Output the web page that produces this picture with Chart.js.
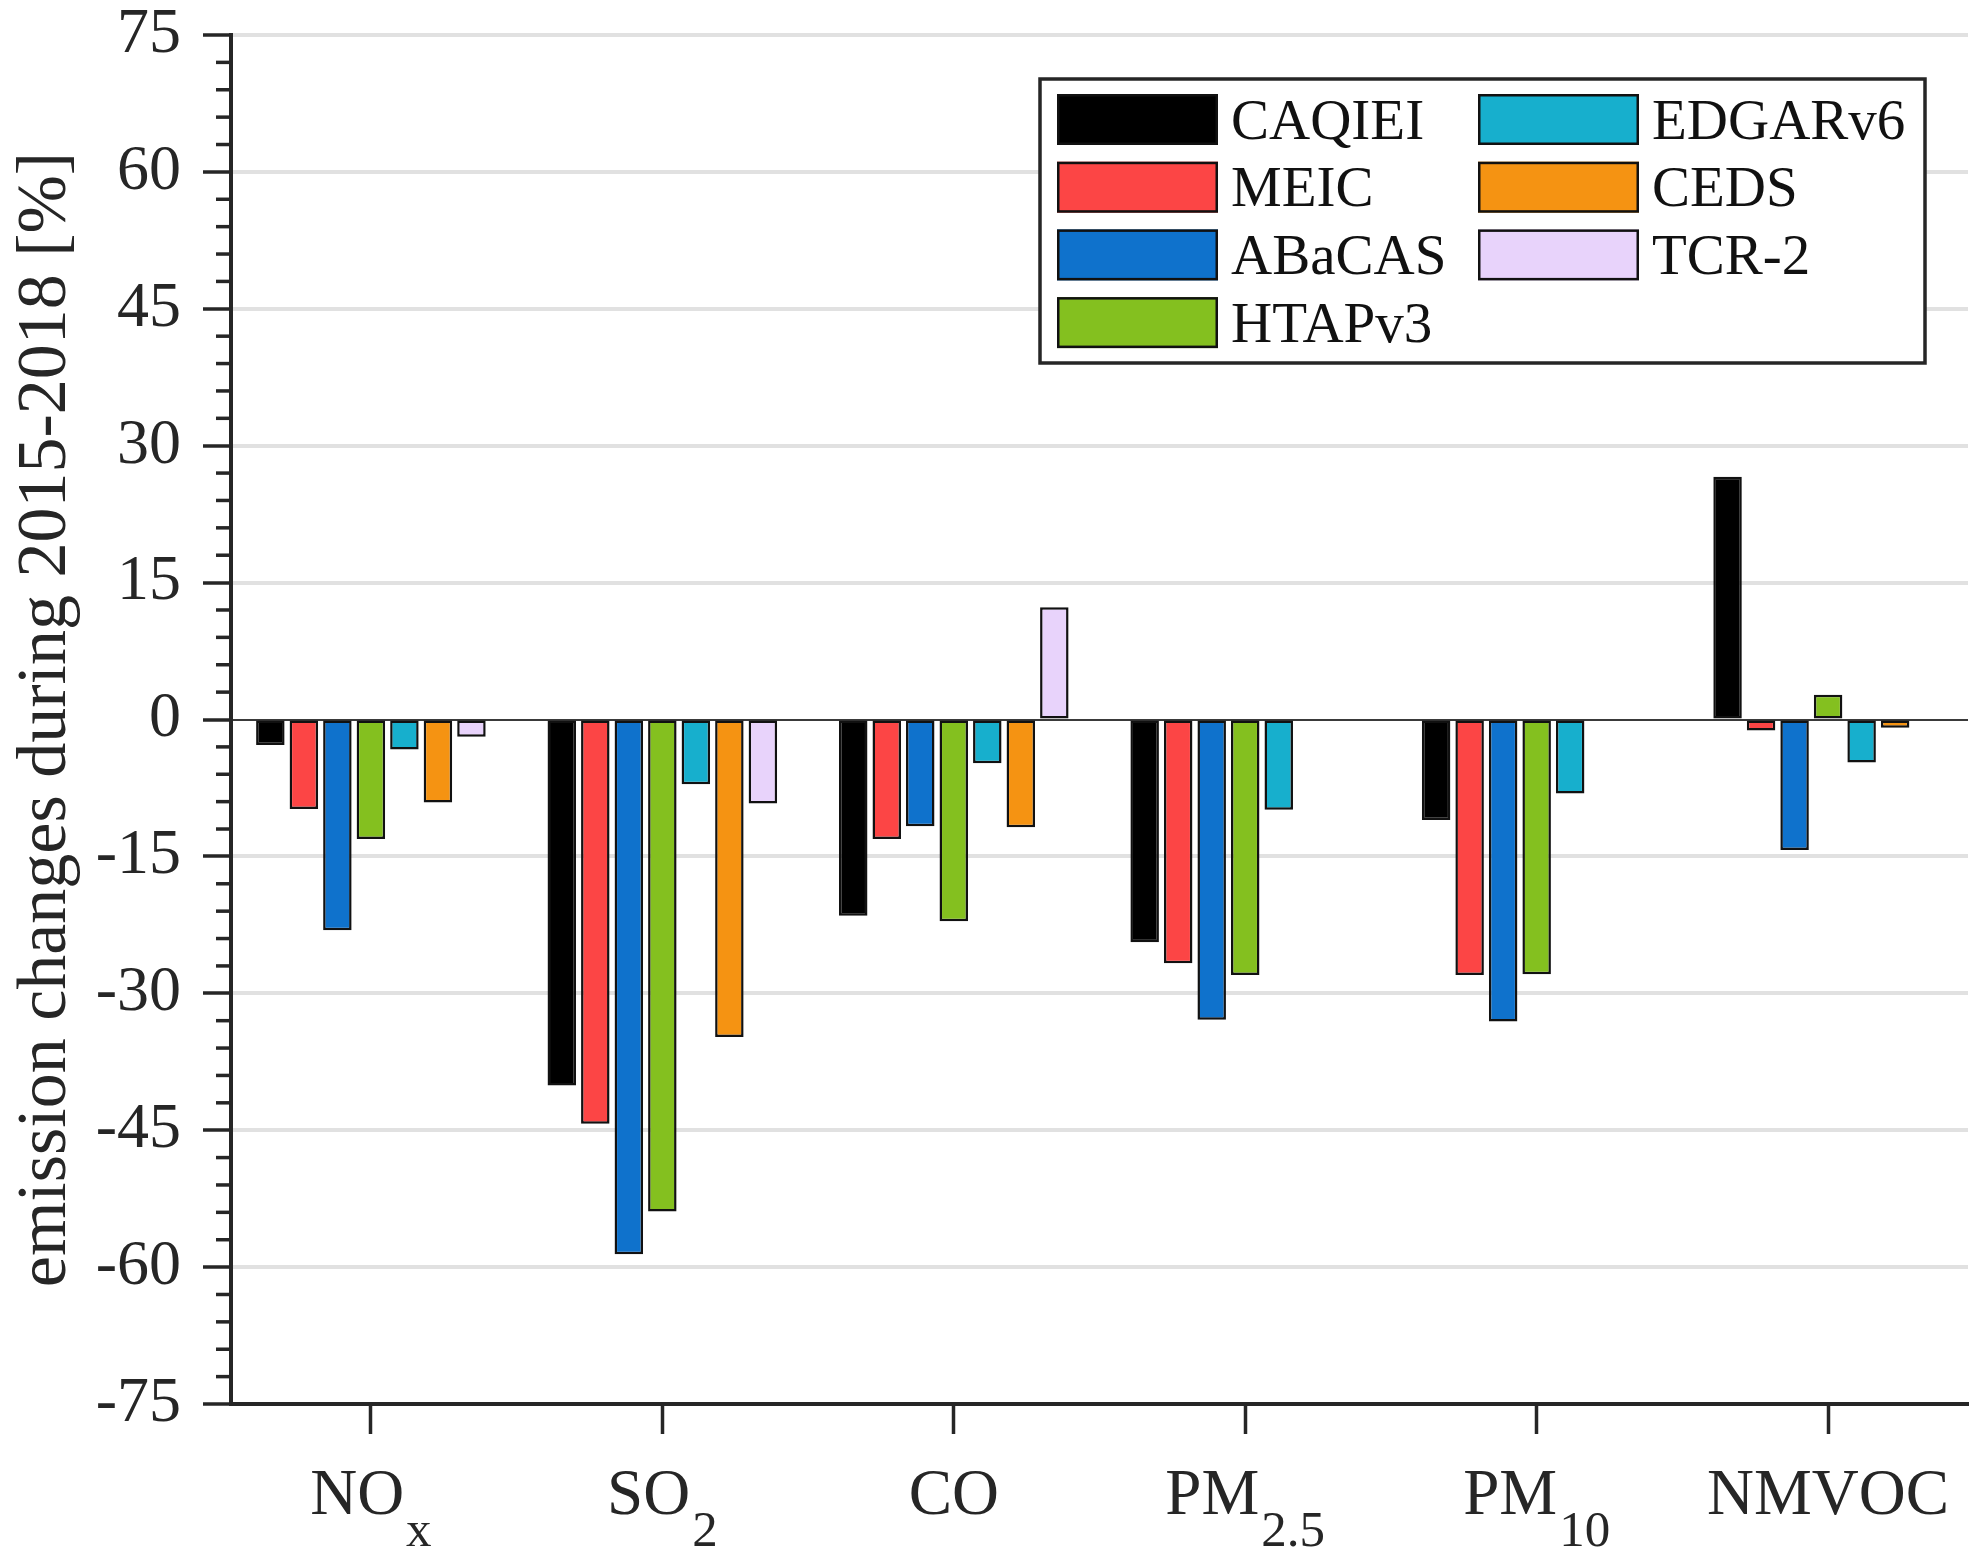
<!DOCTYPE html>
<html><head><meta charset="utf-8">
<script src="https://cdn.jsdelivr.net/npm/chart.js@4.4.0/dist/chart.umd.min.js"></script>
<style>html,body{margin:0;padding:0;background:#fff;}canvas{display:block;}</style>
</head><body>
<canvas id="c" width="1987" height="1564"></canvas>
<script>
// ---- data ----
const categories = ['NOx', 'SO2', 'CO', 'PM2.5', 'PM10', 'NMVOC'];
const categoryMain = ['NO', 'SO', 'CO', 'PM', 'PM', 'NMVOC'];
const categorySub = ['x', '2', '', '2.5', '10', ''];
const seriesNames = ['CAQIEI', 'MEIC', 'ABaCAS', 'HTAPv3', 'EDGARv6', 'CEDS', 'TCR-2'];
const CAQIEI  = [-2.8, -40.1, -21.5, -24.4, -11.0, 26.6];
const MEIC    = [-9.8, -44.3, -13.1, -26.7, -28.0, -1.2];
const ABaCAS  = [-23.1, -58.6, -11.7, -32.9, -33.1, -14.3];
const HTAPv3  = [-13.1, -53.9, -22.1, -28.0, -27.9, 2.7];
const EDGARv6 = [-3.3, -7.1, -4.8, -9.9, -8.1, -4.7];
const CEDS    = [-9.1, -34.8, -11.8, null, null, -0.9];
const TCR2    = [-1.9, -9.2, 12.3, null, null, null];
const seriesValues = [CAQIEI, MEIC, ABaCAS, HTAPv3, EDGARv6, CEDS, TCR2];
const seriesColors = ['#000000', '#FC4545', '#0F72CC', '#84C01F', '#17AFCD', '#F59312', '#E8D3FB'];
const yTicks = [-75, -60, -45, -30, -15, 0, 15, 30, 45, 60, 75];
const yTitle = 'emission changes during 2015-2018 [%]';

const FONT = "'Liberation Serif', serif";
const INK = '#262626';

const whiteBg = {
  id: 'whiteBg',
  beforeDraw(chart) {
    const ctx = chart.ctx;
    ctx.save(); ctx.fillStyle = '#fff';
    ctx.fillRect(0, 0, chart.width, chart.height); ctx.restore();
  }
};

const minorTicks = {
  id: 'minorTicks',
  afterDraw(chart) {
    const y = chart.scales.y, ctx = chart.ctx;
    const x0 = chart.chartArea.left;
    ctx.save(); ctx.strokeStyle = INK; ctx.lineWidth = 3.5;
    for (let v = y.min; v <= y.max; v += 3) {
      if (v % 15 === 0) continue;
      const py = y.getPixelForValue(v);
      ctx.beginPath(); ctx.moveTo(x0 - 15, py); ctx.lineTo(x0, py); ctx.stroke();
    }
    ctx.restore();
  }
};

const xLabels = {
  id: 'xLabels',
  afterDraw(chart) {
    const xs = chart.scales.x, ctx = chart.ctx;
    ctx.save(); ctx.fillStyle = INK; ctx.textBaseline = 'alphabetic'; ctx.textAlign = 'left';
    const mainFont = '65px ' + FONT, subFont = '51px ' + FONT;
    const baseY = chart.chartArea.bottom + 110;
    categories.forEach((c, i) => {
      const cx = xs.getPixelForValue(i + 1);
      ctx.font = mainFont; const wm = ctx.measureText(categoryMain[i]).width;
      ctx.font = subFont; const ws = categorySub[i] ? ctx.measureText(categorySub[i]).width + 2 : 0;
      const start = cx - (wm + ws) / 2;
      ctx.font = mainFont; ctx.fillText(categoryMain[i], start, baseY);
      if (categorySub[i]) { ctx.font = subFont; ctx.fillText(categorySub[i], start + wm + 2, baseY + 32); }
    });
    ctx.restore();
  }
};

const boxLegend = {
  id: 'boxLegend',
  afterDraw(chart) {
    const ctx = chart.ctx;
    ctx.save();
    const L = 1040, T = 79, R = 1925, B = 363;
    ctx.fillStyle = '#fff'; ctx.fillRect(L, T, R - L, B - T);
    ctx.lineWidth = 3.5; ctx.strokeStyle = INK; ctx.strokeRect(L, T, R - L, B - T);
    const colX = [1057, 1478], swW = 161, swH = 51, top0 = 94, pitch = 67.7;
    ctx.font = '57px ' + FONT; ctx.textBaseline = 'alphabetic'; ctx.textAlign = 'left';
    chart.data.datasets.forEach((ds, i) => {
      const col = i < 4 ? 0 : 1, row = i < 4 ? i : i - 4;
      const x = colX[col], y = top0 + row * pitch;
      ctx.fillStyle = ds.backgroundColor; ctx.fillRect(x, y, swW, swH);
      ctx.lineWidth = 2.5; ctx.strokeStyle = '#111'; ctx.strokeRect(x + 1.25, y + 1.25, swW - 2.5, swH - 2.5);
      ctx.fillStyle = '#111'; ctx.fillText(ds.label, x + swW + 13, y + swH / 2 + 19);
    });
    ctx.restore();
  }
};

new Chart(document.getElementById('c'), {
  type: 'bar',
  data: {
    labels: categories.map((c, i) => i + 1),
    datasets: seriesNames.map((n, k) => ({
      label: n,
      data: seriesValues[k],
      backgroundColor: seriesColors[k],
      borderColor: '#111',
      borderWidth: 2.5,
      borderSkipped: false,
      categoryPercentage: 0.805,
      barPercentage: 0.85
    }))
  },
  options: {
    responsive: false,
    animation: false,
    devicePixelRatio: 1,
    layout: { padding: { left: 0, right: 19, top: 35, bottom: 0 } },
    plugins: { legend: { display: false }, tooltip: { enabled: false } },
    scales: {
      x: {
        type: 'linear',
        offset: false,
        min: 0.52, max: 6.48,
        afterBuildTicks(s) { s.ticks = categories.map((c, i) => ({ value: i + 1 })); },
        afterFit(s) { s.height = 160; s.paddingLeft = 0; s.paddingRight = 0; },
        ticks: { display: false, includeBounds: false, stepSize: 1 },
        grid: { drawOnChartArea: false, drawTicks: true, tickLength: 30, tickColor: INK, tickWidth: 3.5, offset: false },
        border: { display: true, color: INK, width: 4 }
      },
      y: {
        min: -75, max: 75,
        afterBuildTicks(s) { s.ticks = yTicks.map(v => ({ value: v })); },
        afterFit(s) { s.width = 231; s.paddingTop = 0; s.paddingBottom = 0; },
        ticks: {
          color: INK, padding: 22,
          font: { family: FONT, size: 64, lineHeight: 1.0 },
          callback: v => String(v)
        },
        grid: {
          color: c => c.tick && c.tick.value === 0 ? '#3a3a3a' : '#e1e1e1',
          lineWidth: c => c.tick && c.tick.value === 0 ? 2 : 4,
          tickColor: INK, tickLength: 28, tickWidth: 3.5
        },
        border: { display: true, color: INK, width: 4 },
        title: {
          display: true, text: yTitle, color: INK,
          font: { family: FONT, size: 70, lineHeight: 1.2 },
          padding: { top: 5, bottom: 0 }
        }
      }
    }
  },
  plugins: [whiteBg, minorTicks, xLabels, boxLegend]
});
</script>
</body></html>
